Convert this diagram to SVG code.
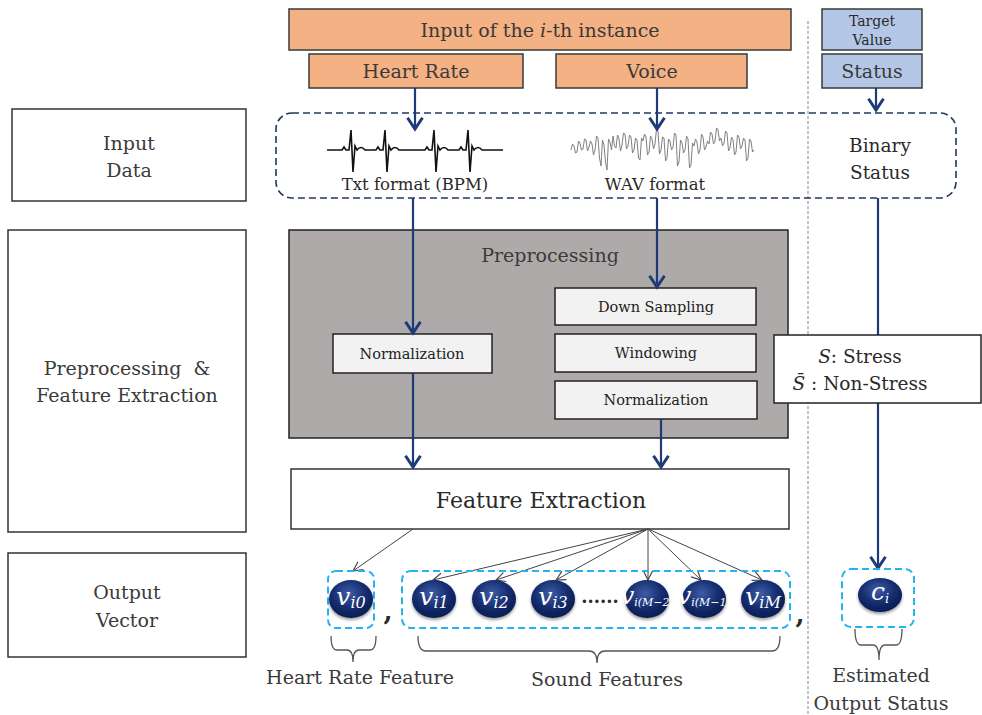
<svg xmlns="http://www.w3.org/2000/svg" width="982" height="715" viewBox="0 0 982 715">
  <style>
    text { font-family: "DejaVu Serif", "Liberation Serif", serif; fill: #2a2a2a; text-anchor: middle; }
    .lbl { font-size: 19px; fill: #3a3a3a; }
    .sm { font-size: 14.5px; fill: #222; }
    .orange { fill: #F4B183; stroke: #3a3a3a; stroke-width: 1.5; }
    .blue { fill: #B4C7E7; stroke: #3a3a3a; stroke-width: 1.5; }
    .side { fill: #fff; stroke: #333; stroke-width: 1.5; }
    .step { fill: #F2F2F2; stroke: #222; stroke-width: 1.5; }
    .flow { fill: none; stroke: #1F3A78; stroke-width: 2.2; }
    .thin { fill: none; stroke: #444; stroke-width: 1; }
    .cyan { fill: none; stroke: #22B4EC; stroke-width: 2; stroke-dasharray: 7 4; }
    .brace { fill: none; stroke: #555; stroke-width: 1.3; }
    .node { fill: url(#ball); }
    .vt { font-family: "DejaVu Serif", serif; font-style: italic; fill: #fff; font-size: 25px; }
  </style>
  <defs>
    <marker id="arr" markerUnits="userSpaceOnUse" markerWidth="20" markerHeight="20" viewBox="-12 -8 14 16" refX="0" refY="0" orient="auto">
      <path d="M-9,-6 L0,0 L-9,6" fill="none" stroke="#1F3A78" stroke-width="2.4"/>
    </marker>
    <marker id="arrThin" markerUnits="userSpaceOnUse" markerWidth="14" markerHeight="14" viewBox="-10 -6 12 12" refX="0" refY="0" orient="auto">
      <path d="M-8,-4 L0,0 L-8,4" fill="none" stroke="#444" stroke-width="1"/>
    </marker>
    <radialGradient id="ball" cx="45%" cy="35%" r="70%">
      <stop offset="0" stop-color="#3F5DA6"/>
      <stop offset="0.55" stop-color="#142C6E"/>
      <stop offset="1" stop-color="#0A1A4C"/>
    </radialGradient>
    <filter id="shadow" x="-30%" y="-30%" width="160%" height="170%">
      <feGaussianBlur in="SourceAlpha" stdDeviation="1.5"/>
      <feOffset dy="2" result="b"/>
      <feComponentTransfer><feFuncA type="linear" slope="0.4"/></feComponentTransfer>
      <feMerge><feMergeNode/><feMergeNode in="SourceGraphic"/></feMerge>
    </filter>
  </defs>

  <rect width="982" height="715" fill="#fff"/>

  <!-- separator between inputs and target -->
  <line x1="808" y1="21" x2="808" y2="715" stroke="#9a9a9a" stroke-width="1.2" stroke-dasharray="3 2"/>

  <!-- stage labels on the left -->
  <g id="stage-input">
    <rect class="side" x="12" y="109" width="234" height="92"/>
    <text class="lbl" x="129" y="150">Input</text>
    <text class="lbl" x="129" y="177">Data</text>
  </g>
  <g id="stage-pre">
    <rect class="side" x="8" y="230" width="238" height="302"/>
    <text class="lbl" x="127" y="375">Preprocessing&#160; &amp;</text>
    <text class="lbl" x="127" y="402">Feature Extraction</text>
  </g>
  <g id="stage-output">
    <rect class="side" x="8" y="553" width="238" height="104"/>
    <text class="lbl" x="127" y="599">Output</text>
    <text class="lbl" x="127" y="627">Vector</text>
  </g>

  <!-- instance inputs -->
  <g id="instance">
    <rect class="orange" x="289" y="9" width="502" height="41"/>
    <text class="lbl" x="540" y="37">Input of the <tspan font-style="italic">i</tspan>-th instance</text>
  </g>
  <g id="heart-rate">
    <rect class="orange" x="309" y="54" width="214" height="34"/>
    <text class="lbl" x="416" y="78">Heart Rate</text>
  </g>
  <g id="voice">
    <rect class="orange" x="556" y="54" width="191" height="34"/>
    <text class="lbl" x="652" y="78">Voice</text>
  </g>
  <g id="target-value">
    <rect class="blue" x="822" y="9" width="100" height="41"/>
    <text x="872" y="26" font-size="14" fill="#3a3a3a">Target</text>
    <text x="872" y="45" font-size="14" fill="#3a3a3a">Value</text>
  </g>
  <g id="status">
    <rect class="blue" x="822" y="54" width="100" height="34"/>
    <text class="lbl" x="872" y="78">Status</text>
  </g>

  <!-- raw input data -->
  <g id="input-data">
    <rect x="276" y="113" width="680" height="85" rx="16" fill="none" stroke="#1F3864" stroke-width="1.6" stroke-dasharray="7 4"/>
    <path fill="none" stroke="#111" stroke-width="1.6" d="M327,150 L342,150 l2,-3 l2,3 L349,150 L351,130 L353,172 L355,146 L357,150 Q361,145 365,150 L376,150 l2,-3 l2,3 L383,150 L385,130 L387,172 L389,146 L391,150 Q395,145 399,150 L425,150 l2,-3 l2,3 L432,150 L434,130 L436,172 L438,146 L440,150 Q444,145 448,150 L459,150 l2,-3 l2,3 L466,150 L468,130 L470,172 L472,146 L474,150 Q478,145 482,150 L503,150"/>
    <polyline fill="none" stroke="#808080" stroke-width="1" points="571,150 572.5,144 574,146 575.5,153 577,152 578.5,141 580,143 581.5,150 583,149 584.5,139 586,140 587.5,151 589,147 590.5,141 592,144 593.5,155 595,150 596.5,136 598,138 599.5,158 601,166 602.5,140 604,145 605.5,162 607,170 608.5,139 610,142 611.5,150 613,136 614.5,146 616,148 617.5,135 619,139 620.5,151 622,145 623.5,133 625,134 626.5,149 628,146 629.5,135 631,137 632.5,153 634,150 635.5,138 637,140 638.5,158 640,160 641.5,138 643,141 644.5,134 646,137 647.5,155 649,152 650.5,136 652,139 653.5,149 655,144 656.5,129 658,131 659.5,154 661,150 662.5,137 664,138 665.5,161 667,158 668.5,139 670,141 671.5,150 673,147 674.5,133 676,135 677.5,166 679,162 680.5,140 682,143 683.5,153 685,150 686.5,136 688,139 689.5,168 691,165 692.5,143 694,146 695.5,139 697,142 698.5,154 700,150 701.5,134 703,137 704.5,150 706,147 707.5,141 709,144 710.5,132 712,134 713.5,144 715,141 716.5,128 718,130 719.5,141 721,138 722.5,146 724,143 725.5,131 727,133 728.5,151 730,148 731.5,137 733,140 734.5,155 736,152 737.5,135 739,137 740.5,149 742,146 743.5,138 745,140 746.5,161 748,158 749.5,139 751,141 752.5,152 754,150"/>
    <text x="415" y="190" font-size="16.5" fill="#111">Txt format (BPM)</text>
    <text x="655" y="190" font-size="16.5" fill="#111">WAV format</text>
    <text x="880" y="152" font-size="18.5" fill="#111">Binary</text>
    <text x="880" y="179" font-size="18.5" fill="#111">Status</text>
  </g>

  <!-- preprocessing block -->
  <g id="preprocessing">
    <rect x="289" y="230" width="499" height="208" fill="#AEAAAA" stroke="#222" stroke-width="1.5"/>
    <text class="lbl" x="550" y="262" fill="#222">Preprocessing</text>
  </g>
  <g id="hr-normalization">
    <rect class="step" x="333" y="334" width="159" height="39"/>
    <text class="sm" x="412" y="359">Normalization</text>
  </g>
  <g id="down-sampling">
    <rect class="step" x="555" y="288" width="201" height="37"/>
    <text class="sm" x="656" y="312">Down Sampling</text>
  </g>
  <g id="windowing">
    <rect class="step" x="555" y="334" width="201" height="38"/>
    <text class="sm" x="656" y="358">Windowing</text>
  </g>
  <g id="voice-normalization">
    <rect class="step" x="555" y="381" width="202" height="38"/>
    <text class="sm" x="656" y="405">Normalization</text>
  </g>

  <g id="feature-extraction">
    <rect x="291" y="469" width="498" height="60" fill="#fff" stroke="#333" stroke-width="1.5"/>
    <text x="541" y="508" font-size="22" fill="#2a2a2a">Feature Extraction</text>
  </g>

  <!-- connectors -->
  <g id="connectors">
    <line class="flow" x1="415" y1="88" x2="415" y2="129" marker-end="url(#arr)"/>
    <line class="flow" x1="657" y1="88" x2="657" y2="129" marker-end="url(#arr)"/>
    <line class="flow" x1="876" y1="88" x2="876" y2="110" marker-end="url(#arr)"/>
    <line class="flow" x1="413" y1="198" x2="413" y2="333" marker-end="url(#arr)"/>
    <line class="flow" x1="657" y1="198" x2="657" y2="287" marker-end="url(#arr)"/>
    <line class="flow" x1="413" y1="373" x2="413" y2="467" marker-end="url(#arr)"/>
    <line class="flow" x1="661" y1="419" x2="661" y2="467" marker-end="url(#arr)"/>
    <line class="flow" x1="878" y1="198" x2="878" y2="568" marker-end="url(#arr)"/>
    <line class="thin" x1="413" y1="529" x2="353" y2="571" marker-end="url(#arrThin)"/>
    <line class="thin" x1="648" y1="529" x2="433" y2="580" marker-end="url(#arrThin)"/>
    <line class="thin" x1="648" y1="529" x2="496" y2="580" marker-end="url(#arrThin)"/>
    <line class="thin" x1="648" y1="529" x2="556" y2="580" marker-end="url(#arrThin)"/>
    <line class="thin" x1="648" y1="529" x2="648" y2="580" marker-end="url(#arrThin)"/>
    <line class="thin" x1="648" y1="529" x2="701" y2="580" marker-end="url(#arrThin)"/>
    <line class="thin" x1="648" y1="529" x2="762" y2="580" marker-end="url(#arrThin)"/>
  </g>

  <!-- class legend -->
  <g id="class-legend">
    <rect x="774" y="335" width="207" height="68" fill="#fff" stroke="#222" stroke-width="1.5"/>
    <text x="860" y="363" font-size="18.5" fill="#111"><tspan font-style="italic">S</tspan>: Stress</text>
    <text x="860" y="390" font-size="18.5" fill="#111"><tspan font-style="italic">S̄</tspan> : Non-Stress</text>
  </g>

  <!-- output vector -->
  <g id="hr-feature">
    <rect class="cyan" x="328" y="571" width="46" height="57" rx="8"/>
    <ellipse class="node" cx="351" cy="599" rx="22" ry="19" filter="url(#shadow)"/>
    <text class="vt" x="351" y="605">v<tspan font-size="16" dy="3">i0</tspan></text>
  </g>
  <text x="388" y="620" font-size="26" font-weight="bold" fill="#111">,</text>

  <g id="sound-features">
    <rect class="cyan" x="402" y="571" width="388" height="57" rx="9"/>
    <ellipse class="node" cx="434" cy="599" rx="22" ry="19" filter="url(#shadow)"/>
    <text class="vt" x="434" y="605">v<tspan font-size="16" dy="3">i1</tspan></text>
    <ellipse class="node" cx="494" cy="599" rx="22" ry="19" filter="url(#shadow)"/>
    <text class="vt" x="494" y="605">v<tspan font-size="16" dy="3">i2</tspan></text>
    <ellipse class="node" cx="553" cy="599" rx="22" ry="19" filter="url(#shadow)"/>
    <text class="vt" x="553" y="605">v<tspan font-size="16" dy="3">i3</tspan></text>
    <text x="600" y="603" font-size="18" font-weight="bold" fill="#111">......</text>
    <ellipse class="node" cx="647" cy="599" rx="22" ry="19" filter="url(#shadow)"/>
    <text class="vt" x="647" y="604" font-size="17">v<tspan font-size="11" dy="2">i(M−2)</tspan></text>
    <ellipse class="node" cx="704" cy="599" rx="22" ry="19" filter="url(#shadow)"/>
    <text class="vt" x="704" y="604" font-size="17">v<tspan font-size="11" dy="2">i(M−1)</tspan></text>
    <ellipse class="node" cx="763" cy="599" rx="22" ry="19" filter="url(#shadow)"/>
    <text class="vt" x="763" y="605">v<tspan font-size="16" dy="3">iM</tspan></text>
  </g>
  <text x="800" y="623" font-size="26" font-weight="bold" fill="#111">,</text>

  <g id="estimated-status">
    <rect class="cyan" x="842" y="569" width="72" height="58" rx="9"/>
    <ellipse class="node" cx="880" cy="595" rx="22" ry="17" filter="url(#shadow)"/>
    <text class="vt" x="880" y="600" font-size="20">c<tspan font-size="13" dy="3">i</tspan></text>
  </g>

  <!-- braces and captions -->
  <g id="captions">
    <path class="brace" d="M331,636 Q331,650 337,650 L347,650 Q353,650 353,662 Q353,650 359,650 L370,650 Q376,650 376,636"/>
    <path class="brace" d="M418,636 Q418,651 426,651 L589,651 Q597,651 597,663 Q597,651 605,651 L772,651 Q780,651 780,636"/>
    <path class="brace" d="M855,629 Q855,645 861,645 L873,645 Q879,645 879,660 Q879,645 885,645 L896,645 Q902,645 902,629"/>
    <text class="lbl" x="360" y="684" fill="#111">Heart Rate Feature</text>
    <text class="lbl" x="607" y="686" fill="#111">Sound Features</text>
    <text class="lbl" x="881" y="682" fill="#111">Estimated</text>
    <text class="lbl" x="881" y="710" fill="#111">Output Status</text>
  </g>
</svg>
